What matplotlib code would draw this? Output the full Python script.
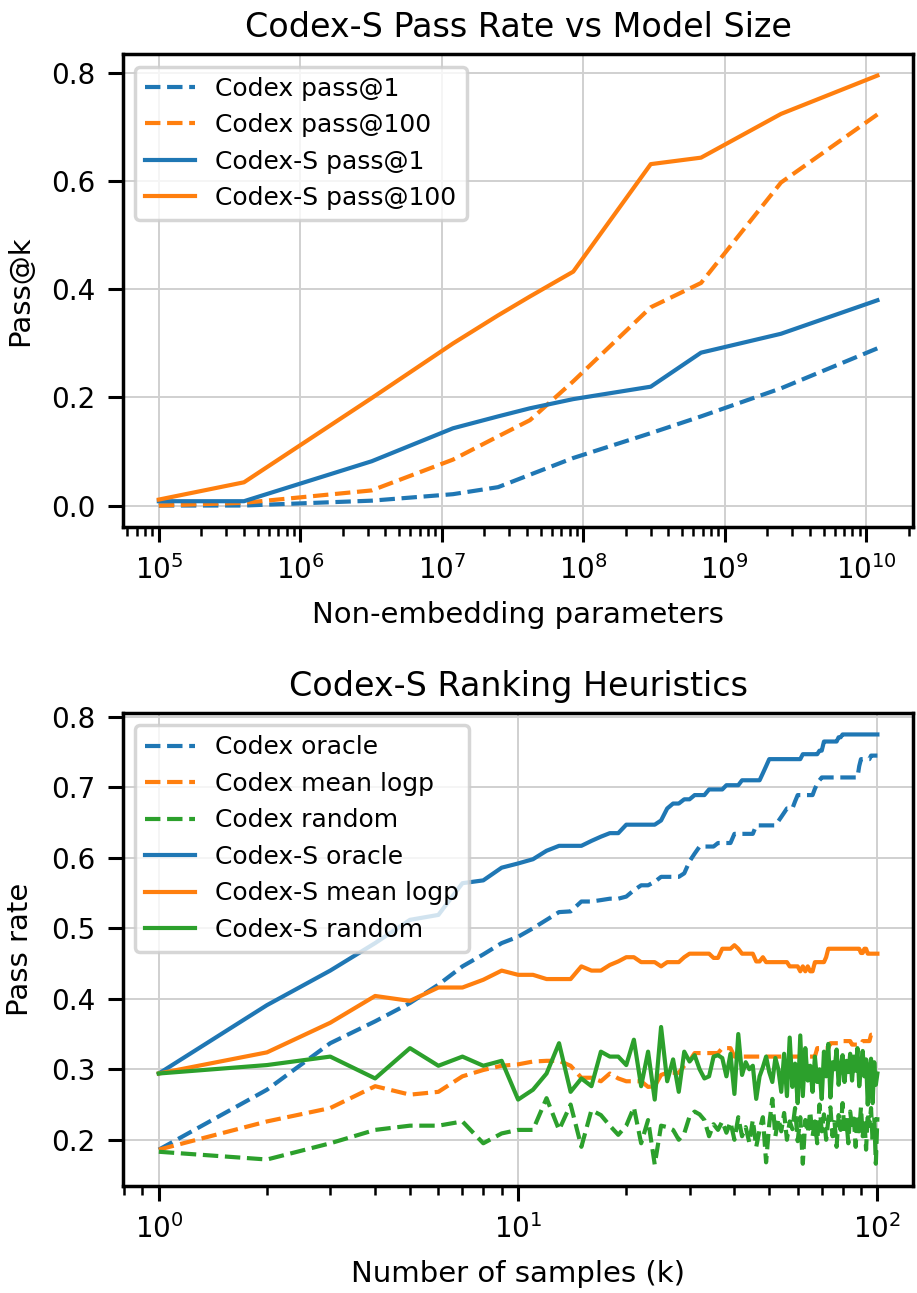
import matplotlib
matplotlib.use("Agg")
import matplotlib.pyplot as plt
import matplotlib.ticker as ticker

# ---- top panel: pass rate vs model size ----
params = [1e5, 4e5, 3.2e6, 1.2e7, 2.5e7, 4.2e7, 8.5e7, 3e8, 6.8e8, 2.5e9, 1.2e10]
codex_pass1 = [0.0, 0.0, 0.009, 0.021, 0.034, 0.057, 0.088, 0.134, 0.165, 0.217, 0.291]
codex_pass100 = [0.0, 0.005, 0.028, 0.085, 0.128, 0.158, 0.230, 0.367, 0.412, 0.598, 0.724]
codexs_pass1 = [0.008, 0.008, 0.082, 0.143, 0.165, 0.180, 0.197, 0.220, 0.283, 0.318, 0.380]
codexs_pass100 = [0.011, 0.043, 0.199, 0.300, 0.352, 0.387, 0.433, 0.632, 0.644, 0.725, 0.796]

# ---- bottom panel: ranking heuristics ----
k = list(range(1, 101))
codex_oracle = [
    0.186, 0.271, 0.337, 0.368, 0.394, 0.420, 0.446, 0.463, 0.479, 0.488,
    0.500, 0.512, 0.523, 0.524, 0.538, 0.538, 0.540, 0.542, 0.542, 0.545,
    0.554, 0.561, 0.561, 0.566, 0.573, 0.573, 0.573, 0.573, 0.578, 0.595,
    0.606, 0.616, 0.616, 0.616, 0.616, 0.621, 0.621, 0.621, 0.621, 0.634,
    0.634, 0.634, 0.634, 0.634, 0.634, 0.646, 0.646, 0.646, 0.646, 0.646,
    0.646, 0.646, 0.652, 0.658, 0.664, 0.670, 0.670, 0.670, 0.680, 0.689,
    0.689, 0.689, 0.689, 0.689, 0.689, 0.689, 0.698, 0.705, 0.710, 0.714,
    0.714, 0.714, 0.714, 0.714, 0.714, 0.714, 0.714, 0.714, 0.714, 0.714,
    0.714, 0.714, 0.714, 0.714, 0.714, 0.714, 0.714, 0.714, 0.730, 0.740,
    0.740, 0.740, 0.740, 0.740, 0.740, 0.745, 0.745, 0.745, 0.745, 0.745,
]
codex_logp = [
    0.186, 0.226, 0.245, 0.276, 0.264, 0.268, 0.290, 0.299, 0.305, 0.307,
    0.311, 0.312, 0.312, 0.305, 0.288, 0.288, 0.283, 0.294, 0.287, 0.283,
    0.283, 0.283, 0.275, 0.276, 0.292, 0.295, 0.295, 0.295, 0.305, 0.312,
    0.323, 0.323, 0.323, 0.323, 0.323, 0.323, 0.330, 0.330, 0.330, 0.318,
    0.318, 0.318, 0.318, 0.318, 0.318, 0.318, 0.318, 0.318, 0.318, 0.318,
    0.318, 0.318, 0.318, 0.318, 0.318, 0.318, 0.318, 0.318, 0.318, 0.318,
    0.318, 0.318, 0.318, 0.318, 0.318, 0.318, 0.318, 0.330, 0.330, 0.330,
    0.330, 0.330, 0.330, 0.337, 0.337, 0.337, 0.337, 0.337, 0.340, 0.340,
    0.340, 0.340, 0.340, 0.340, 0.335, 0.335, 0.335, 0.335, 0.335, 0.335,
    0.340, 0.340, 0.340, 0.340, 0.340, 0.349, 0.349, 0.349, 0.349, 0.349,
]
codex_random = [
    0.183, 0.172, 0.195, 0.214, 0.220, 0.220, 0.226, 0.195, 0.209, 0.214,
    0.214, 0.259, 0.214, 0.250, 0.190, 0.242, 0.235, 0.220, 0.207, 0.220,
    0.246, 0.195, 0.228, 0.165, 0.220, 0.218, 0.214, 0.200, 0.209, 0.233,
    0.240, 0.236, 0.228, 0.205, 0.222, 0.214, 0.226, 0.210, 0.225, 0.200,
    0.232, 0.205, 0.218, 0.196, 0.228, 0.190, 0.214, 0.232, 0.168, 0.222,
    0.258, 0.205, 0.230, 0.212, 0.238, 0.200, 0.226, 0.215, 0.245, 0.198,
    0.232, 0.166, 0.228, 0.210, 0.240, 0.205, 0.226, 0.195, 0.250, 0.212,
    0.236, 0.200, 0.228, 0.246, 0.205, 0.225, 0.190, 0.235, 0.214, 0.252,
    0.208, 0.228, 0.195, 0.240, 0.218, 0.230, 0.190, 0.236, 0.212, 0.246,
    0.205, 0.230, 0.186, 0.238, 0.220, 0.245, 0.196, 0.232, 0.166, 0.232,
]
codexs_oracle = [
    0.294, 0.391, 0.440, 0.479, 0.512, 0.519, 0.564, 0.568, 0.586, 0.592,
    0.598, 0.610, 0.617, 0.617, 0.617, 0.624, 0.630, 0.635, 0.635, 0.647,
    0.647, 0.647, 0.647, 0.647, 0.653, 0.670, 0.677, 0.677, 0.683, 0.683,
    0.689, 0.689, 0.689, 0.697, 0.697, 0.697, 0.697, 0.703, 0.703, 0.703,
    0.703, 0.710, 0.710, 0.710, 0.710, 0.710, 0.710, 0.720, 0.730, 0.740,
    0.740, 0.740, 0.740, 0.740, 0.740, 0.740, 0.740, 0.740, 0.740, 0.740,
    0.740, 0.747, 0.747, 0.747, 0.747, 0.747, 0.747, 0.747, 0.752, 0.752,
    0.765, 0.765, 0.765, 0.765, 0.765, 0.765, 0.765, 0.771, 0.771, 0.775,
    0.775, 0.775, 0.775, 0.775, 0.775, 0.775, 0.775, 0.775, 0.775, 0.775,
    0.775, 0.775, 0.775, 0.775, 0.775, 0.775, 0.775, 0.775, 0.775, 0.775,
]
codexs_logp = [
    0.294, 0.324, 0.366, 0.404, 0.397, 0.416, 0.416, 0.427, 0.440, 0.434,
    0.434, 0.428, 0.428, 0.428, 0.446, 0.440, 0.440, 0.448, 0.453, 0.459,
    0.459, 0.452, 0.452, 0.452, 0.446, 0.452, 0.452, 0.452, 0.459, 0.464,
    0.464, 0.464, 0.464, 0.464, 0.458, 0.458, 0.471, 0.471, 0.471, 0.476,
    0.471, 0.464, 0.464, 0.464, 0.464, 0.453, 0.453, 0.459, 0.452, 0.452,
    0.452, 0.452, 0.452, 0.452, 0.452, 0.452, 0.446, 0.446, 0.446, 0.446,
    0.439, 0.446, 0.439, 0.446, 0.439, 0.439, 0.452, 0.452, 0.452, 0.452,
    0.452, 0.459, 0.471, 0.471, 0.471, 0.471, 0.471, 0.471, 0.471, 0.471,
    0.471, 0.471, 0.471, 0.471, 0.471, 0.471, 0.471, 0.471, 0.471, 0.465,
    0.465, 0.471, 0.471, 0.464, 0.464, 0.464, 0.464, 0.464, 0.464, 0.464,
]
codexs_random = [
    0.294, 0.306, 0.318, 0.287, 0.330, 0.305, 0.318, 0.305, 0.312, 0.257,
    0.271, 0.294, 0.337, 0.268, 0.287, 0.276, 0.325, 0.318, 0.318, 0.306,
    0.342, 0.276, 0.325, 0.257, 0.360, 0.283, 0.314, 0.268, 0.325, 0.311,
    0.320, 0.300, 0.287, 0.290, 0.318, 0.320, 0.316, 0.290, 0.322, 0.265,
    0.350, 0.292, 0.310, 0.300, 0.305, 0.258, 0.290, 0.303, 0.318, 0.296,
    0.282, 0.316, 0.300, 0.268, 0.322, 0.262, 0.345, 0.275, 0.308, 0.252,
    0.348, 0.262, 0.330, 0.284, 0.305, 0.268, 0.318, 0.282, 0.300, 0.258,
    0.325, 0.290, 0.336, 0.260, 0.310, 0.300, 0.328, 0.278, 0.304, 0.320,
    0.282, 0.312, 0.296, 0.322, 0.284, 0.318, 0.298, 0.330, 0.276, 0.302,
    0.326, 0.290, 0.314, 0.250, 0.300, 0.315, 0.252, 0.310, 0.278, 0.294,
]

plt.rcParams.update({
    "font.family": "DejaVu Sans",
    "axes.linewidth": 1.25,
    "axes.labelpad": 6.0,
    "xtick.major.size": 5.5,
    "ytick.major.size": 5.5,
    "xtick.major.width": 1.1,
    "ytick.major.width": 1.1,
    "xtick.minor.size": 3.2,
    "xtick.minor.width": 0.9,
    "xtick.major.pad": 4.5,
    "ytick.major.pad": 4.5,
    "xtick.labelsize": 10,
    "ytick.labelsize": 10,
    "axes.labelsize": 10.5,
    "axes.titlesize": 12,
    "legend.fontsize": 9,
    "lines.linewidth": 1.5,
    "grid.color": "#d0d0d0",
    "grid.linewidth": 0.7,
})

fig = plt.figure(figsize=(4.585, 6.465), dpi=200)
ax1 = fig.add_axes([0.134, 0.5924, 0.862, 0.3658])
ax2 = fig.add_axes([0.134, 0.0828, 0.862, 0.3658])

ax1.plot(params, codex_pass1, "--", color="tab:blue", label="Codex pass@1")
ax1.plot(params, codex_pass100, "--", color="tab:orange", label="Codex pass@100")
ax1.plot(params, codexs_pass1, "-", color="tab:blue", label="Codex-S pass@1")
ax1.plot(params, codexs_pass100, "-", color="tab:orange", label="Codex-S pass@100")
ax1.set_xscale("log")
ax1.yaxis.set_major_locator(ticker.MultipleLocator(0.2))
ax1.set_xlabel("Non-embedding parameters")
ax1.set_ylabel("Pass@k")
ax1.set_title("Codex-S Pass Rate vs Model Size")
ax1.grid(True)
ax1.set_axisbelow(True)
leg1 = ax1.legend(loc="upper left")
leg1.get_frame().set_linewidth(1.25)

ax2.plot(k, codex_oracle, "--", color="tab:blue", label="Codex oracle")
ax2.plot(k, codex_logp, "--", color="tab:orange", label="Codex mean logp")
ax2.plot(k, codex_random, "--", color="tab:green", label="Codex random")
ax2.plot(k, codexs_oracle, "-", color="tab:blue", label="Codex-S oracle")
ax2.plot(k, codexs_logp, "-", color="tab:orange", label="Codex-S mean logp")
ax2.plot(k, codexs_random, "-", color="tab:green", label="Codex-S random")
ax2.set_xscale("log")
ax2.set_xlabel("Number of samples (k)")
ax2.set_ylabel("Pass rate")
ax2.set_title("Codex-S Ranking Heuristics")
ax2.grid(True)
ax2.set_axisbelow(True)
leg2 = ax2.legend(loc="upper left")
leg2.get_frame().set_linewidth(1.25)

fig.savefig("out.png", dpi=200)
